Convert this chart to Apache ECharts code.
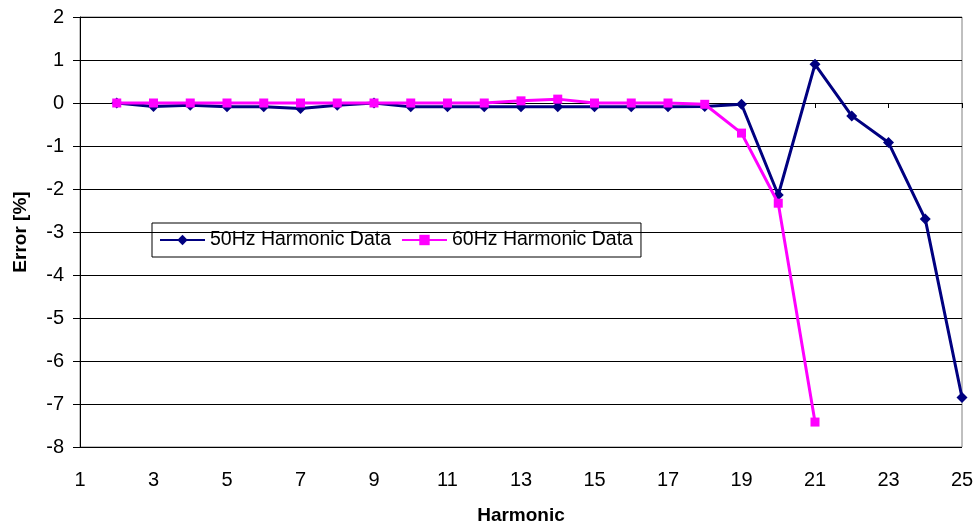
<!DOCTYPE html>
<html>
<head>
<meta charset="utf-8">
<script src="https://cdn.jsdelivr.net/npm/echarts@6/dist/echarts.min.js"></script>
<style>html,body{margin:0;padding:0;background:#fff;}#c{width:979px;height:527px;}</style>
</head>
<body>
<div id="c"></div>
<script>
var harmonics = ['1','2','3','4','5','6','7','8','9','10','11','12','13','14','15','16','17','18','19','20','21','22','23','24','25'];
var data50 = [null, 0, -0.08, -0.05, -0.09, -0.09, -0.13, -0.05, 0, -0.09, -0.09, -0.09, -0.09, -0.09, -0.09, -0.09, -0.09, -0.08, -0.03, -2.14, 0.9, -0.3, -0.92, -2.7, -6.85];
var data60 = [null, 0, 0, 0, 0, 0, 0, 0, 0, 0, 0, 0, 0.05, 0.09, 0, 0, 0, -0.03, -0.7, -2.33, -7.42, null, null, null, null];
var yTicks = { min: -8, max: 2, step: 1 };

var chart = echarts.init(document.getElementById('c'));
var font = 'Liberation Sans, Arial, sans-serif';
chart.setOption({
  animation: false,
  backgroundColor: '#fff',
  grid: { left: 80, right: 17, top: 17, bottom: 80, outerBoundsMode: 'none', containLabel: false, show: true, borderColor: '#808080', borderWidth: 1, backgroundColor: 'transparent' },
  legend: {
    left: 152, top: 223,
    orient: 'horizontal',
    padding: [7, 8, 7, 7],
    itemGap: 10,
    itemWidth: 45, itemHeight: 13,
    borderColor: '#000', borderWidth: 1,
    textStyle: { fontFamily: font, fontSize: 19.5, color: '#000' },
    data: ['50Hz Harmonic Data', '60Hz Harmonic Data']
  },
  xAxis: [{
    type: 'category', data: harmonics, boundaryGap: false,
    name: 'Harmonic', nameLocation: 'middle', nameGap: 59,
    nameTextStyle: { fontFamily: font, fontSize: 19, fontWeight: 'bold', color: '#000' },
    axisLine: { show: false, onZero: false },
    axisTick: { show: false },
    axisLabel: { interval: 1, margin: 23, fontFamily: font, fontSize: 20, color: '#000' },
    splitLine: { show: false }
  }, {
    type: 'category', data: harmonics, boundaryGap: false, position: 'bottom',
    axisLine: { show: true, onZero: true, lineStyle: { color: '#000', width: 1 } },
    axisTick: { show: true, interval: 1, length: 5, lineStyle: { color: '#000' } },
    axisLabel: { show: false },
    splitLine: { show: false }
  }],
  yAxis: {
    type: 'value', min: yTicks.min, max: yTicks.max, interval: yTicks.step,
    name: 'Error [%]', nameLocation: 'middle', nameGap: 50, nameRotate: 90,
    nameTextStyle: { fontFamily: font, fontSize: 19, fontWeight: 'bold', color: '#000' },
    axisLine: { show: true, onZero: false, lineStyle: { color: '#000', width: 1 } },
    axisTick: { show: true, length: 7, lineStyle: { color: '#000' } },
    axisLabel: { margin: 16, fontFamily: font, fontSize: 20, color: '#000' },
    splitLine: { show: true, lineStyle: { color: '#000', width: 1 } }
  },
  series: [{
    name: '50Hz Harmonic Data', type: 'line', data: data50, xAxisIndex: 0,
    symbol: 'diamond', symbolSize: 11, showAllSymbol: true,
    lineStyle: { color: '#000080', width: 3 },
    itemStyle: { color: '#000080' },
    z: 3
  }, {
    name: '60Hz Harmonic Data', type: 'line', data: data60, xAxisIndex: 0,
    symbol: 'rect', symbolSize: 9, showAllSymbol: true,
    lineStyle: { color: '#FF00FF', width: 3 },
    itemStyle: { color: '#FF00FF' },
    z: 4
  }]
});
</script>
</body>
</html>
